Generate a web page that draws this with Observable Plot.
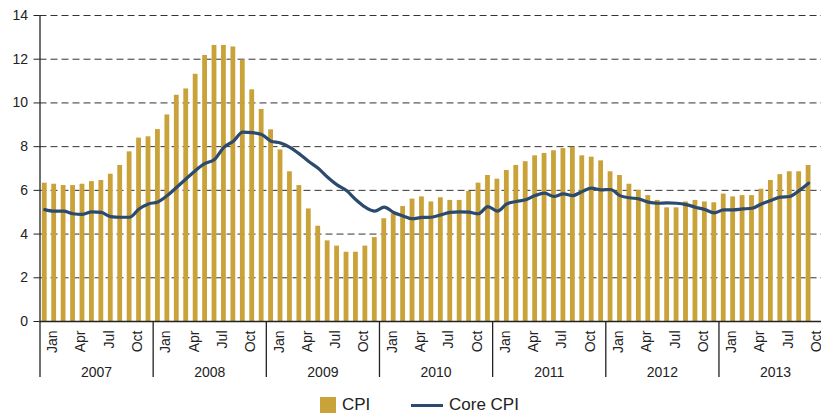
<!DOCTYPE html>
<html>
<head>
<meta charset="utf-8">
<script src="https://cdn.jsdelivr.net/npm/d3@7"></script>
<script src="https://cdn.jsdelivr.net/npm/@observablehq/plot@0.6"></script>
<style>
  html, body { margin: 0; padding: 0; background: #fff; overflow: hidden; width: 821px; height: 417px; }
  #chart svg { overflow: hidden; display: block; }
  #legend { position: absolute; left: 0; top: 394px; height: 22px; width: 821px; font-family: "Liberation Sans", Arial, sans-serif; font-size: 17px; color: #222; }
  .sw { position: absolute; top: 3px; left: 320px; width: 16px; height: 16px; background: #C9A23A; }
  .t1 { position: absolute; left: 342px; top: 0; line-height: 22px; }
  .ln { position: absolute; left: 411px; top: 10px; width: 32px; height: 3px; background: #2B4A6E; }
  .t2 { position: absolute; left: 449px; top: 0; line-height: 22px; }
</style>
</head>
<body>
<div id="chart"></div>
<div id="legend"><span class="sw"></span><span class="t1">CPI</span><span class="ln"></span><span class="t2">Core CPI</span></div>
<script>
// Monthly data, Jan 2007 – Oct 2013
const startYear = 2007;
const years = [2007, 2008, 2009, 2010, 2011, 2012, 2013];
const monthNames = ["Jan","Feb","Mar","Apr","May","Jun","Jul","Aug","Sep","Oct","Nov","Dec"];
const tickMonths = ["Jan", "Apr", "Jul", "Oct"];
const yTicks = [0, 2, 4, 6, 8, 10, 12, 14];

const cpi = [
  // 2007
  6.33, 6.28, 6.22, 6.22, 6.28, 6.40, 6.45, 6.74, 7.14, 7.76, 8.39, 8.45,
  // 2008
  8.78, 9.45, 10.35, 10.64, 11.31, 12.17, 12.63, 12.63, 12.56, 11.96, 10.60, 9.70,
  // 2009
  8.77, 7.85, 6.85, 6.22, 5.15, 4.36, 3.69, 3.45, 3.17, 3.17, 3.45, 3.84,
  // 2010
  4.70, 4.93, 5.26, 5.60, 5.70, 5.47, 5.66, 5.54, 5.54, 5.95, 6.33, 6.68,
  // 2011
  6.51, 6.91, 7.14, 7.31, 7.58, 7.69, 7.81, 7.91, 7.97, 7.58, 7.52, 7.35,
  // 2012
  6.85, 6.68, 6.28, 5.99, 5.76, 5.54, 5.20, 5.20, 5.47, 5.54, 5.47, 5.43,
  // 2013
  5.83, 5.70, 5.76, 5.76, 6.05, 6.45, 6.72, 6.85, 6.85, 7.14
];

const coreCpi = [
  // 2007
  5.12, 5.05, 5.05, 4.93, 4.90, 5.02, 4.99, 4.80, 4.77, 4.77, 5.15, 5.38,
  // 2008
  5.47, 5.76, 6.14, 6.53, 6.91, 7.23, 7.41, 7.97, 8.25, 8.66, 8.64, 8.56,
  // 2009
  8.25, 8.17, 7.97, 7.67, 7.32, 7.01, 6.60, 6.25, 5.99, 5.57, 5.23, 5.05,
  // 2010
  5.23, 4.99, 4.83, 4.70, 4.76, 4.77, 4.88, 4.99, 5.02, 5.00, 4.93, 5.26,
  // 2011
  5.05, 5.38, 5.49, 5.57, 5.76, 5.87, 5.72, 5.84, 5.76, 5.95, 6.10, 6.02,
  // 2012
  6.04, 5.76, 5.66, 5.61, 5.46, 5.41, 5.43, 5.41, 5.35, 5.23, 5.12, 4.97,
  // 2013
  5.11, 5.11, 5.15, 5.18, 5.38, 5.54, 5.69, 5.72, 5.99, 6.33
];

const rows = cpi.map((v, i) => ({
  i,
  month: monthNames[i % 12],
  year: startYear + Math.floor(i / 12),
  cpi: v,
  core: coreCpi[i]
}));
const tickRows = [];
for (let i = 0; i < years.length * 12; i++) {
  if (tickMonths.includes(monthNames[i % 12])) tickRows.push({i, label: monthNames[i % 12]});
}
const yearRows = years.map((y, k) => ({year: y, start: k * 12, mid: k * 12 + 6}));

const font = "'Liberation Sans', Arial, sans-serif";
const gold = "#C9A23A";
const navy = "#2B4A6E";

const plot = Plot.plot({
  width: 821,
  height: 394,
  marginTop: 15,
  marginBottom: 73,
  marginLeft: 39.5,
  marginRight: 0,
  style: {fontFamily: font, fontSize: "14px", color: "#222", background: "#fff"},
  x: {type: "linear", domain: [0, years.length * 12], range: [39.5, 39.5 + 84 * 9.43], axis: null},
  y: {domain: [0, 14], ticks: yTicks, axis: null},
  marks: [
    Plot.ruleY(yTicks.filter(d => d > 0), {x1: 0, x2: years.length * 12, stroke: "#333", strokeWidth: 1, strokeDasharray: "7,4"}),
    Plot.rectY(rows, {x1: d => d.i + 0.25, x2: d => d.i + 0.76, y: "cpi", fill: gold}),
    Plot.line(rows, {x: d => d.i + 0.5, y: "core", stroke: navy, strokeWidth: 3.2, curve: "monotone-x"}),
    // y axis
    Plot.axisY({ticks: yTicks, tickSize: 6, tickPadding: 6, fontSize: 14, stroke: "#222"}),
    Plot.ruleX([0], {y1: 0, y2: 14, stroke: "#222", strokeWidth: 1.3}),
    // x axis baseline
    Plot.ruleY([0], {x1: 0, x2: years.length * 12, stroke: "#222", strokeWidth: 1.3}),
    // year separators
    Plot.ruleX(yearRows, {x: "start", stroke: "#222", strokeWidth: 1.3, insetTop: 306, insetBottom: -56}),
    // month labels
    Plot.text(tickRows, {x: d => d.i + 0.5, y: 0, text: "label", rotate: -90, textAnchor: "end", lineAnchor: "middle", dx: 8, dy: 9, fontSize: 14, fill: "#222"}),
    // year labels
    Plot.text(yearRows, {x: "mid", y: 0, text: d => String(d.year), dy: 51, lineAnchor: "middle", fontSize: 14, fill: "#222"})
  ]
});
document.getElementById("chart").appendChild(plot);
</script>
</body>
</html>
